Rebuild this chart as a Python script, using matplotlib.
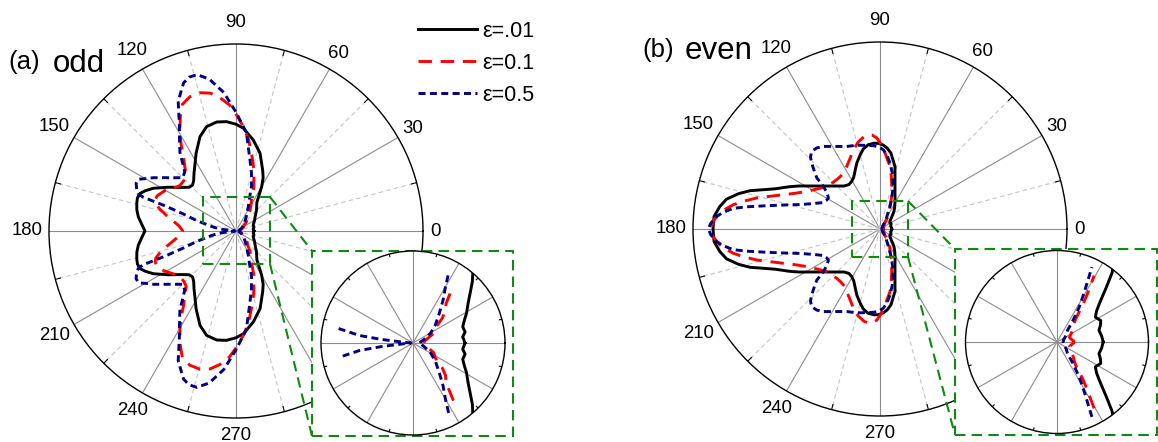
import numpy as np
import matplotlib
matplotlib.use('Agg')
import matplotlib.pyplot as plt
from matplotlib.patches import Rectangle
from matplotlib.lines import Line2D

plt.rcParams['font.family'] = ['Liberation Sans', 'DejaVu Sans']

# ---- data: half curves, angle in degrees (0..180), mirrored about the 0-180 axis
odd_k_th = [0, 4, 7, 12, 18, 24, 29, 36, 42, 46, 50, 54, 57, 60, 63, 66.4, 72.8, 79.2, 85.9, 90, 95, 100,
            105.7, 110.9, 117.2, 122, 126, 130, 133.5, 137, 141.6, 147, 152.7, 156, 158.6, 161.5, 164.4,
            168, 171.7, 176, 180]
odd_k_r = [.096, .094, .0925, .0984, .0966, .104, .113, .126, .143, .158, .172, .19, .225, .275, .32, .356,
           .435, .495, .551, .571, .587, .592, .58, .54, .467, .415, .382, .352, .338, .343, .375, .43, .498,
           .53, .551, .556, .551, .542, .528, .505, .487]

odd_r_th = [0, 10, 20, 25, 30, 34, 40, 45, 50, 55, 60, 64, 68, 74, 78, 82, 86, 90, 93, 97, 100.6, 104.6,
            109, 113, 116, 119.7, 122.5, 125, 128.5, 132, 136, 141, 146, 151, 156, 159, 161.5, 164, 167.5,
            171, 175, 180]
odd_r_r = [.02, .022, .032, .042, .046, .05, .07, .085, .095, .13, .16, .19, .255, .345, .41, .49, .56, .625,
           .675, .72, .75, .764, .759, .735, .68, .605, .545, .49, .44, .398, .388, .386, .408, .44, .462,
           .463, .452, .423, .38, .34, .305, .285]

odd_b_th = [0, 8, 16, 25, 30, 39, 48, 55, 60, 63, 66.5, 71, 75, 79, 84, 90, 95, 100, 104, 107, 109.5, 114,
            118, 122, 125.6, 128.5, 131, 135, 140, 144, 147.2, 150, 152, 154.5, 157.2, 159, 160, 160.5,
            162, 165, 169, 172, 173.5, 175, 177, 180]
odd_b_r = [.013, .014, .02, .03, .038, .053, .072, .097, .12, .145, .175, .255, .32, .39, .53, .635, .743,
           .825, .862, .86, .84, .76, .645, .57, .515, .455, .418, .403, .443, .485, .526, .56, .59, .592,
           .576, .56, .53, .4, .3, .22, .14, .1, .06, .02, .008, .004]

even_k_th = [0, 8, 15.5, 21, 26, 33, 38, 42, 48, 51.5, 57, 62.6, 67, 70.5, 76.5, 81.8, 85, 88, 91, 94, 98,
             101.8, 105, 109.4, 113, 117, 120.8, 125, 130, 136, 142.8, 148, 152, 155, 159, 163.6, 166, 169,
             172, 175.7, 180]
even_k_r = [.0626, .061, .059, .063, .066, .062, .068, .077, .1, .12, .145, .175, .205, .24, .343, .41, .435,
            .45, .458, .46, .455, .437, .41, .374, .34, .31, .296, .29, .3, .331, .38, .434, .49, .535, .6,
            .725, .78, .836, .865, .89, .893]

even_r_th = [0, 10, 20, 30, 40, 46, 51, 55, 57.7, 60.8, 63, 66, 70, 74.6, 78, 80.9, 86.2, 89, 92, 95, 97,
             100, 104, 108.6, 113, 118, 122, 127, 131.3, 136, 141.4, 147, 152.8, 157, 160.5, 163.5, 165.9,
             168.5, 170.6, 172.5, 174.3, 177, 180]
even_r_r = [.024, .02, .018, .022, .028, .033, .04, .06, .077, .103, .115, .132, .18, .236, .29, .339, .407,
            .45, .487, .505, .508, .5, .48, .447, .41, .379, .36, .352, .351, .355, .365, .395, .44, .49,
            .549, .615, .68, .745, .795, .83, .86, .89, .905]

even_b_th = [0, 15, 25, 38, 47.8, 53, 57.5, 61, 63, 65, 68, 72.7, 77, 81.4, 84.5, 87.6, 91, 94.6, 99, 103,
             107, 112, 118, 124.5, 128, 131.4, 134, 136, 138.5, 141, 143, 146, 149, 152, 155, 159, 163, 166,
             168.4, 170.5, 172, 174, 175.6, 178, 180]
even_b_r = [.008, .009, .011, .016, .021, .035, .056, .075, .09, .112, .16, .239, .3, .357, .395, .424, .44,
            .447, .452, .46, .467, .476, .5, .536, .55, .553, .535, .508, .47, .435, .379, .34, .322, .325,
            .335, .38, .447, .53, .619, .72, .793, .845, .876, .905, .918]

eps_labels = ['\u03b5=.01', '\u03b5=0.1', '\u03b5=0.5']
angle_ticks = list(range(0, 360, 30))

W, H = 1158, 442
# label radius (fraction of outer circle) for each angle tick
LAB_R = {0: 1.065, 30: 1.093, 60: 1.095, 90: 1.113, 120: 1.114, 150: 1.122, 180: 1.119,
         210: 1.12, 240: 1.109, 270: 1.091, 300: 1.095, 330: 1.093}

STYLES = [dict(color='black', lw=2.1, ls='-'),
          dict(color='#ff0000', lw=2.1, dashes=(4.6, 3.0)),
          dict(color='#000080', lw=2.1, dashes=(2.4, 1.5))]
# the inset curves stop short of the inset rim (fraction of inset radius)
INSET_CUT = [None, 0.85, 0.93]
GREEN = '#118811'


def fx(x):
    return x / W


def fy(y):
    return 1 - y / H


def full(th, r):
    th = np.asarray(th, float)
    r = np.asarray(r, float)
    t = np.concatenate([th, 360 - th[::-1][1:]])
    rr = np.concatenate([r, r[::-1][1:]])
    return np.deg2rad(t), rr


def axes_at(cx, cy, R, zorder):
    ax = fig.add_axes([fx(cx - R), fy(cy + R), 2 * R / W, 2 * R / H], projection='polar')
    ax.set_zorder(zorder)
    ax.set_xticks([]); ax.set_yticks([]); ax.grid(False)
    ax.spines['polar'].set_linewidth(1.0)
    return ax


def draw_grid(ax, rmax, dashed):
    for a in range(0, 360, 30):
        ax.plot([np.deg2rad(a)] * 2, [0, rmax], color='#8c8c8c', lw=0.8, zorder=1)
    for a in range(15, 360, 30):
        if dashed:
            ax.plot([np.deg2rad(a)] * 2, [0, rmax], color='#c4c4c4', lw=0.8, ls=(0, (4, 3)), zorder=1)
        ax.plot([np.deg2rad(a)] * 2, [0.972 * rmax, rmax], color='k', lw=0.8, zorder=1)


def draw_curves(ax, data, rcut=None):
    lines = []
    for (th, r), st, cut in zip(data, STYLES, INSET_CUT):
        t, rr = full(th, r)
        if rcut is not None and cut is not None:
            rr = np.where(rr > cut * rcut, np.nan, rr)
        ln, = ax.plot(t, rr, zorder=3, **st)
        lines.append(ln)
    return lines


fig = plt.figure(figsize=(W / 100, H / 100), dpi=100)

panels = [
    dict(c=(236, 231), inset_c=(413, 343), inset_R=92, rmax_in=0.17,
         data=[(odd_k_th, odd_k_r), (odd_r_th, odd_r_r), (odd_b_th, odd_b_r)],
         small=(203, 197, 270, 264), box=(312, 251, 513, 436)),
    dict(c=(880, 229), inset_c=(1057, 342), inset_R=91.5, rmax_in=0.124,
         data=[(even_k_th, even_k_r), (even_r_th, even_r_r), (even_b_th, even_b_r)],
         small=(852, 201, 908, 257), box=(955, 249, 1157, 435)),
]

handles = None
for p in panels:
    ax = axes_at(p['c'][0], p['c'][1], 187, 0)
    ax.set_ylim(0, 1)
    draw_grid(ax, 1, True)
    lines = draw_curves(ax, p['data'])
    if handles is None:
        handles = lines
    for a in angle_ticks:
        ax.text(np.deg2rad(a), LAB_R[a], str(a), ha='center', va='center', fontsize=13.4,
                clip_on=False)

    # zoom box in the middle and connectors
    x0, y0, x1, y1 = p['small']
    fig.add_artist(Rectangle((fx(x0), fy(y1)), fx(x1) - fx(x0), fy(y0) - fy(y1),
                             transform=fig.transFigure, fill=False, ec=GREEN, lw=1.5,
                             ls=(0, (5, 3)), zorder=1.5))
    bx0, by0, bx1, by1 = p['box']
    for (sx, sy), (ex, ey) in [((x1, y0), (bx0, by0)), ((x1, y1), (bx0, by1))]:
        fig.add_artist(Line2D([fx(sx), fx(ex)], [fy(sy), fy(ey)], transform=fig.transFigure,
                              color=GREEN, lw=1.5, ls=(0, (5, 3)), zorder=1.5))
    fig.add_artist(Rectangle((fx(bx0), fy(by1)), fx(bx1) - fx(bx0), fy(by0) - fy(by1),
                             transform=fig.transFigure, fc='white', ec=GREEN, lw=1.5,
                             ls=(0, (5, 3)), zorder=1.6))

    # inset
    axi = axes_at(p['inset_c'][0], p['inset_c'][1], p['inset_R'], 2)
    axi.set_ylim(0, p['rmax_in'])
    draw_grid(axi, p['rmax_in'], False)
    draw_curves(axi, p['data'], rcut=p['rmax_in'])

# panel titles
fig.text(fx(8), fy(68.5), '(a)', fontsize=18.5, va='baseline')
fig.text(fx(53), fy(71.7), 'odd', fontsize=22.5, va='baseline')
fig.text(fx(642), fy(56.5), '(b)', fontsize=18.5, va='baseline')
fig.text(fx(685), fy(59.3), 'even', fontsize=22.5, va='baseline')

fig.legend(handles, eps_labels, loc='upper left', bbox_to_anchor=(fx(418), fy(21)),
           bbox_transform=fig.transFigure, frameon=False, fontsize=15.5, borderpad=0,
           borderaxespad=0, handlelength=2.75, handletextpad=0.25, labelspacing=0.5)

fig.savefig('out.png', dpi=100)
